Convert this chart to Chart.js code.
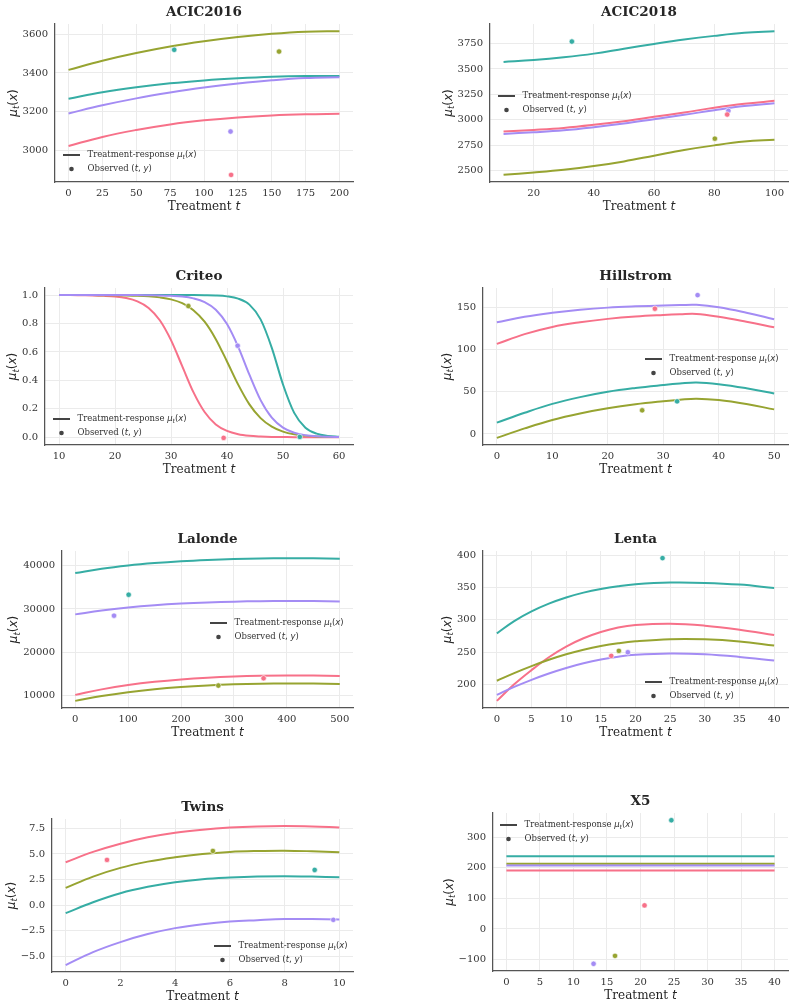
<!DOCTYPE html>
<html>
<head>
<meta charset="utf-8">
<script src="https://cdn.jsdelivr.net/npm/chart.js@4.4.1/dist/chart.umd.min.js"></script>
<style>
  body { margin: 0; background: #fff; width: 795px; height: 1008px; position: relative; overflow: hidden; }
  canvas { position: absolute; }
</style>
</head>
<body>
<script>
// husl palette, 4 units
const colors = ['#f77189', '#97a431', '#36ada4', '#a48cf4'];

// ACIC2016
const acic16T = [0, 25, 50, 75, 100, 125, 150, 175, 200];
const acic16Pink = [3021, 3068, 3104, 3133, 3154, 3169, 3179, 3185, 3188];
const acic16Olive = [3416, 3463, 3503, 3537, 3564, 3586, 3603, 3614, 3617];
const acic16Teal = [3266, 3300, 3326, 3346, 3361, 3372, 3380, 3384, 3384];
const acic16Purple = [3190, 3232, 3268, 3298, 3324, 3345, 3362, 3374, 3378];
const acic16ObsT = [120, 155.4, 78, 119.6];
const acic16ObsY = [2871, 3511, 3520, 3096];
const acic16XTicks = [0, 25, 50, 75, 100, 125, 150, 175, 200];
const acic16YTicks = [3000, 3200, 3400, 3600];

// ACIC2018
const acic18T = [10, 20, 30, 40, 50, 60, 70, 80, 90, 100];
const acic18Pink = [2883, 2899, 2919, 2949, 2985, 3028, 3071, 3117, 3156, 3186];
const acic18Olive = [2457, 2480, 2507, 2543, 2589, 2645, 2701, 2747, 2784, 2803];
const acic18Teal = [3569, 3588, 3615, 3651, 3700, 3747, 3790, 3826, 3856, 3872];
const acic18Purple = [2860, 2876, 2896, 2926, 2962, 3005, 3048, 3094, 3135, 3163];
const acic18ObsT = [84.3, 80.2, 32.7, 84.7];
const acic18ObsY = [3051, 2813, 3770, 3087];
const acic18XTicks = [20, 40, 60, 80, 100];
const acic18YTicks = [2500, 2750, 3000, 3250, 3500, 3750];

// Criteo
const criteoT = [10, 12, 14, 16, 18, 20, 22, 24, 26, 28, 30, 32, 34, 36, 38, 40, 42, 44, 46, 48, 50, 52, 54, 56, 58, 60];
const criteoPink = [1, 1, 0.999, 0.998, 0.995, 0.990, 0.979, 0.956, 0.910, 0.823, 0.683, 0.500, 0.317, 0.177, 0.090, 0.044, 0.021, 0.010, 0.005, 0.002, 0.001, 0, 0, 0, 0, 0];
const criteoOlive = [1, 1, 1, 1, 0.999, 0.999, 0.998, 0.996, 0.992, 0.984, 0.970, 0.943, 0.894, 0.813, 0.690, 0.533, 0.370, 0.231, 0.134, 0.074, 0.039, 0.020, 0.011, 0.005, 0.003, 0.001];
const criteoTeal = [1, 1, 1, 1, 1, 1, 1, 1, 1, 1, 1, 1, 1, 0.999, 0.997, 0.991, 0.975, 0.933, 0.829, 0.629, 0.371, 0.171, 0.067, 0.025, 0.009, 0.003];
const criteoPurple = [1, 1, 1, 1, 1, 1, 1, 1, 0.999, 0.998, 0.995, 0.990, 0.977, 0.951, 0.897, 0.796, 0.636, 0.440, 0.261, 0.137, 0.067, 0.031, 0.014, 0.006, 0.003, 0.001];
const criteoObsT = [39.4, 33.1, 53.0, 41.9];
const criteoObsY = [-0.005, 0.923, 0.002, 0.644];
const criteoXTicks = [10, 20, 30, 40, 50, 60];
const criteoYTicks = [0, 0.2, 0.4, 0.6, 0.8, 1.0];

// Hillstrom
const hillT = [0, 5, 10, 15, 20, 25, 30, 33, 36, 40, 45, 50];
const hillPink = [106.4, 118, 126.5, 132, 136, 138.8, 140.6, 141.4, 141.8, 138.5, 132.6, 126];
const hillOlive = [-4.7, 6.5, 16.5, 24.2, 30.3, 35, 38.6, 40.4, 41.6, 40, 35.3, 29];
const hillTeal = [13.3, 25, 35.5, 43.5, 49.8, 54.3, 57.8, 59.6, 60.8, 58.8, 54, 47.9];
const hillPurple = [132, 138.5, 143.2, 146.8, 149.3, 150.8, 151.8, 152.3, 152.6, 149.8, 143.3, 135.5];
const hillObsT = [28.5, 26.2, 32.5, 36.2];
const hillObsY = [148, 27.9, 38.5, 164.1];
const hillXTicks = [0, 10, 20, 30, 40, 50];
const hillYTicks = [0, 50, 100, 150];

// Lalonde
const lalT = [0, 50, 100, 150, 200, 250, 300, 350, 400, 450, 500];
const lalPink = [10230, 11500, 12480, 13230, 13790, 14190, 14460, 14620, 14680, 14660, 14560];
const lalOlive = [8854, 9980, 10860, 11540, 12040, 12400, 12650, 12800, 12860, 12840, 12760];
const lalTeal = [38240, 39250, 40000, 40560, 40980, 41280, 41490, 41620, 41680, 41660, 41560];
const lalPurple = [28750, 29640, 30330, 30850, 31230, 31500, 31680, 31790, 31830, 31800, 31700];
const lalObsT = [356, 270.5, 101, 73.3];
const lalObsY = [14057, 12373, 33265, 28440];
const lalXTicks = [0, 100, 200, 300, 400, 500];
const lalYTicks = [10000, 20000, 30000, 40000];

// Lenta
const lentaT = [0, 2.5, 5, 7.5, 10, 12.5, 15, 17.5, 20, 25, 30, 35, 40];
const lentaPink = [174.4, 200, 222, 242, 258.5, 271.3, 281, 288, 291.8, 293.8, 290.8, 284.6, 276.4];
const lentaOlive = [205.6, 217.4, 228.2, 238, 246.5, 253.6, 259.3, 263.6, 266.7, 270, 269.8, 266.5, 260];
const lentaTeal = [279, 298, 313, 325, 334.5, 342, 347.7, 352, 355, 357.5, 357, 354.4, 349.2];
const lentaPurple = [183.6, 196, 207, 216.8, 225.4, 232.6, 238.4, 242.8, 245.7, 247.7, 246.5, 242.5, 236.9];
const lentaObsT = [16.5, 17.6, 23.9, 18.9];
const lentaObsY = [244.1, 251.8, 395.4, 249.7];
const lentaXTicks = [0, 5, 10, 15, 20, 25, 30, 35, 40];
const lentaYTicks = [200, 250, 300, 350, 400];

// Twins
const twinsT = [0, 1, 2, 3, 4, 5, 6, 7, 8, 9, 10];
const twinsPink = [4.19, 5.2, 6.0, 6.62, 7.07, 7.37, 7.57, 7.68, 7.72, 7.68, 7.58];
const twinsOlive = [1.69, 2.79, 3.64, 4.25, 4.68, 5.0, 5.2, 5.29, 5.32, 5.26, 5.16];
const twinsTeal = [-0.78, 0.29, 1.17, 1.79, 2.24, 2.53, 2.69, 2.79, 2.82, 2.79, 2.73];
const twinsPurple = [-5.84, -4.58, -3.6, -2.82, -2.24, -1.85, -1.59, -1.46, -1.36, -1.36, -1.4];
const twinsObsT = [1.51, 5.38, 9.1, 9.78];
const twinsObsY = [4.42, 5.29, 3.44, -1.43];
const twinsXTicks = [0, 2, 4, 6, 8, 10];
const twinsYTicks = [-5, -2.5, 0, 2.5, 5, 7.5];

// X5
const x5T = [0, 40];
const x5Pink = [191, 191];
const x5Olive = [213, 213];
const x5Teal = [238, 238];
const x5Purple = [207, 207];
const x5ObsT = [20.6, 16.2, 24.6, 13.0];
const x5ObsY = [77, -88, 355.4, -114];
const x5XTicks = [0, 5, 10, 15, 20, 25, 30, 35, 40];
const x5YTicks = [-100, 0, 100, 200, 300];

const fmtInt = v => String(v).replace('-', '\u2212');
const fmt1 = v => v.toFixed(1).replace('-', '\u2212');

// area = [left, top, right, bottom] of the axes box in page px, legend = offset from area top-left
const panels = [
  { title: 'ACIC2016', t: acic16T, curves: [acic16Pink, acic16Olive, acic16Teal, acic16Purple], obsT: acic16ObsT, obsY: acic16ObsY,
    x: [-10, 210], xTicks: acic16XTicks, y: [2834, 3654], yTicks: acic16YTicks, yFmt: fmtInt, area: [55, 24, 353, 182], legend: [8, 131] },
  { title: 'ACIC2018', t: acic18T, curves: [acic18Pink, acic18Olive, acic18Teal, acic18Purple], obsT: acic18ObsT, obsY: acic18ObsY,
    x: [5.5, 104.5], xTicks: acic18XTicks, y: [2386, 3943], yTicks: acic18YTicks, yFmt: fmtInt, area: [490, 24, 788, 182], legend: [8, 72] },
  { title: 'Criteo', t: criteoT, curves: [criteoPink, criteoOlive, criteoTeal, criteoPurple], obsT: criteoObsT, obsY: criteoObsY,
    x: [7.5, 62.5], xTicks: criteoXTicks, y: [-0.055, 1.05], yTicks: criteoYTicks, yFmt: fmt1, area: [45, 288, 353, 445], legend: [8, 131], mono: true },
  { title: 'Hillstrom', t: hillT, curves: [hillPink, hillOlive, hillTeal, hillPurple], obsT: hillObsT, obsY: hillObsY,
    x: [-2.5, 52.5], xTicks: hillXTicks, y: [-13.1, 172.5], yTicks: hillYTicks, yFmt: fmtInt, area: [483, 288, 788, 445], legend: [162, 71] },
  { title: 'Lalonde', t: lalT, curves: [lalPink, lalOlive, lalTeal, lalPurple], obsT: lalObsT, obsY: lalObsY,
    x: [-25, 525], xTicks: lalXTicks, y: [7213, 43325], yTicks: lalYTicks, yFmt: fmtInt, area: [62, 551, 353, 708], legend: [148, 72] },
  { title: 'Lenta', t: lentaT, curves: [lentaPink, lentaOlive, lentaTeal, lentaPurple], obsT: lentaObsT, obsY: lentaObsY,
    x: [-2, 42], xTicks: lentaXTicks, y: [163.4, 406.4], yTicks: lentaYTicks, yFmt: fmtInt, area: [483, 551, 788, 708], legend: [162, 131] },
  { title: 'Twins', t: twinsT, curves: [twinsPink, twinsOlive, twinsTeal, twinsPurple], obsT: twinsObsT, obsY: twinsObsY,
    x: [-0.5, 10.5], xTicks: twinsXTicks, y: [-6.52, 8.41], yTicks: twinsYTicks, yFmt: fmt1, area: [52, 819, 353, 972], legend: [162, 127] },
  { title: 'X5', t: x5T, curves: [x5Pink, x5Olive, x5Teal, x5Purple], obsT: x5ObsT, obsY: x5ObsY,
    x: [-2, 42], xTicks: x5XTicks, y: [-137.5, 379], yTicks: x5YTicks, yFmt: fmtInt, area: [493, 813, 788, 971], legend: [7, 12] }
];

const rowTops = [0, 252, 514, 776, 1008];
const SERIF = '"DejaVu Serif"';
const SANS = '"DejaVu Sans"';
const TEXT = '#262626';

// segments: [text, style]  r = serif, m = math upright, i = math italic, s = math subscript
function richFont(st, size) {
  if (st === 'r') return size + 'px ' + SERIF;
  if (st === 'm') return size + 'px ' + SANS;
  if (st === 'i') return 'italic ' + size + 'px ' + SANS;
  return 'italic ' + (size * 0.7).toFixed(1) + 'px ' + SANS;
}
function drawRich(ctx, segs, x, y, size, center) {
  let w = 0;
  segs.forEach(([s, st]) => { ctx.font = richFont(st, size); w += ctx.measureText(s).width; });
  let cx = center ? x - w / 2 : x;
  ctx.textAlign = 'left';
  ctx.textBaseline = 'middle';
  segs.forEach(([s, st]) => {
    ctx.font = richFont(st, size);
    ctx.fillText(s, cx, st === 's' ? y + size * 0.28 : y);
    cx += ctx.measureText(s).width;
  });
}

const muLabel = [['\u03bc', 'i'], ['t', 's'], ['(', 'm'], ['x', 'i'], [')', 'm']];
const xLabel = [['Treatment ', 'r'], ['t', 'i']];
const legLine = [['Treatment-response ', 'r']].concat(muLabel);
const legDot = [['Observed ', 'r'], ['(', 'm'], ['t', 'i'], [', ', 'm'], ['y', 'i'], [')', 'm']];

const decor = (p) => ({
  id: 'decor',
  afterDraw(chart) {
    const ctx = chart.ctx;
    const a = chart.chartArea;
    const mid = (a.left + a.right) / 2;
    ctx.save();
    ctx.fillStyle = TEXT;
    ctx.font = 'bold 13.5px ' + SERIF;
    ctx.textAlign = 'center';
    ctx.textBaseline = 'middle';
    ctx.fillText(p.title, mid, a.top - 12);

    drawRich(ctx, xLabel, mid, a.bottom + 25, 12, true);

    ctx.font = '10px ' + SERIF;
    const tw = Math.max(...p.yTicks.map(v => ctx.measureText(p.yFmt(v)).width));
    ctx.save();
    ctx.translate(a.left - 7 - tw - 9, (a.top + a.bottom) / 2);
    ctx.rotate(-Math.PI / 2);
    drawRich(ctx, muLabel, 0, 0, 12, true);
    ctx.restore();

    // legend
    const lx = a.left + p.legend[0], ly = a.top + p.legend[1];
    ctx.strokeStyle = '#444';
    ctx.lineWidth = 2;
    ctx.beginPath();
    ctx.moveTo(lx, ly);
    ctx.lineTo(lx + 17, ly);
    ctx.stroke();
    ctx.fillStyle = '#444';
    ctx.beginPath();
    ctx.arc(lx + 8.5, ly + 14, 2.3, 0, Math.PI * 2);
    ctx.fill();
    ctx.fillStyle = '#333';
    drawRich(ctx, legLine, lx + 24.5, ly, 8.5, false);
    drawRich(ctx, legDot, lx + 24.5, ly + 14, 8.5, false);
    ctx.restore();
  }
});

function makeChart(p, i) {
  const col = i % 2, row = Math.floor(i / 2);
  const cx = col ? 397 : 0, cw = col ? 398 : 397;
  const cy = rowTops[row], ch = rowTops[row + 1] - cy;
  const cv = document.createElement('canvas');
  cv.width = cw; cv.height = ch;
  cv.style.left = cx + 'px'; cv.style.top = cy + 'px';
  cv.style.width = cw + 'px'; cv.style.height = ch + 'px';
  document.body.appendChild(cv);

  const [al, at, ar, ab] = p.area;
  const YW = 40, XH = 20;
  const datasets = [];
  // observed points first so they sit on top of the curves
  p.obsT.forEach((tv, k) => datasets.push({
    type: 'scatter', data: [{ x: tv, y: p.obsY[k] }],
    backgroundColor: colors[k], borderColor: '#fff', borderWidth: 0.6, pointRadius: 2.7
  }));
  for (let k = p.curves.length - 1; k >= 0; k--) {
    datasets.push({
      type: 'line', data: p.t.map((tv, j) => ({ x: tv, y: p.curves[k][j] })),
      borderColor: colors[k], borderWidth: 2, pointRadius: 0, fill: false,
      cubicInterpolationMode: p.mono ? 'monotone' : 'default', tension: 0.4
    });
  }

  const tickFont = { family: SERIF, size: 10 };
  new Chart(cv, {
    type: 'line',
    data: { datasets },
    options: {
      responsive: false,
      animation: false,
      events: [],
      layout: { padding: { left: al - cx - YW, top: at - cy, right: cx + cw - ar, bottom: cy + ch - ab - XH } },
      plugins: { legend: { display: false }, tooltip: { enabled: false }, title: { display: false } },
      scales: {
        x: {
          type: 'linear', min: p.x[0], max: p.x[1],
          afterFit: s => { s.height = XH; },
          afterBuildTicks: s => { s.ticks = p.xTicks.map(v => ({ value: v })); },
          ticks: { padding: 5, font: tickFont, color: '#333', maxRotation: 0, autoSkip: false,
                   callback: (v, k) => String(p.xTicks[k]) },
          grid: { color: '#ebebeb', lineWidth: 1, drawTicks: false },
          border: { color: '#555', width: 1.25 }
        },
        y: {
          type: 'linear', min: p.y[0], max: p.y[1],
          afterFit: s => { s.width = YW; },
          afterBuildTicks: s => { s.ticks = p.yTicks.map(v => ({ value: v })); },
          ticks: { padding: 7, font: tickFont, color: '#333', autoSkip: false,
                   callback: (v, k) => p.yFmt(p.yTicks[k]) },
          grid: { color: '#ebebeb', lineWidth: 1, drawTicks: false },
          border: { color: '#555', width: 1.25 }
        }
      }
    },
    plugins: [decor(p)]
  });
}

panels.forEach(makeChart);
</script>
</body>
</html>
